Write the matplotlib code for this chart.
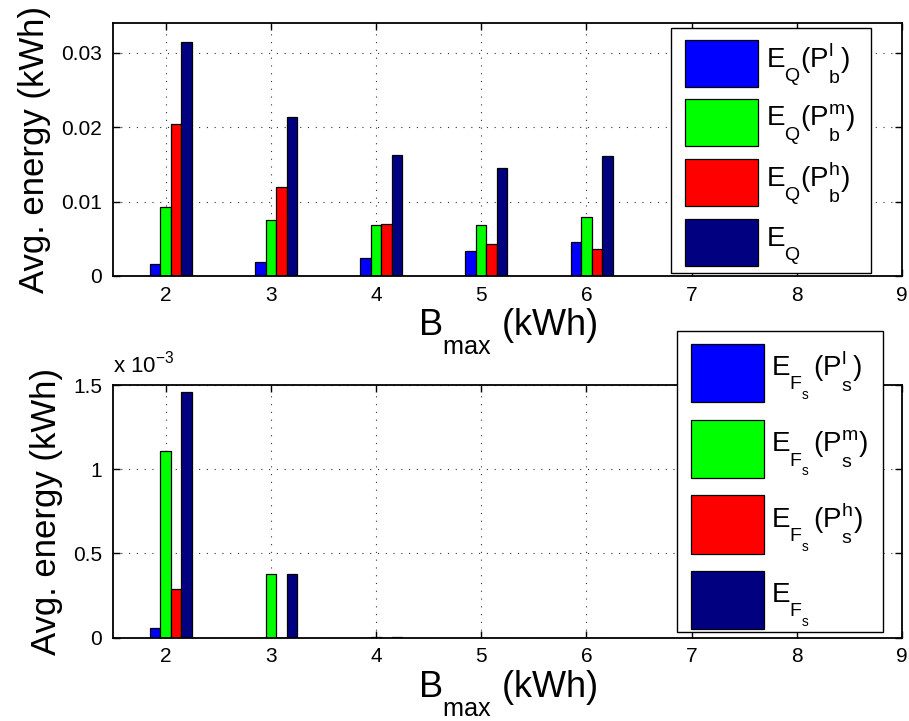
import numpy as np
import matplotlib
matplotlib.use("Agg")
import matplotlib.pyplot as plt
from matplotlib.ticker import FuncFormatter
from matplotlib.patches import Rectangle
from matplotlib.legend_handler import HandlerPatch
import matplotlib._mathtext as mt

plt.rcParams['font.family'] = ['Liberation Sans', 'DejaVu Sans']
plt.rcParams['mathtext.fontset'] = 'custom'
plt.rcParams['mathtext.rm'] = 'Liberation Sans'
plt.rcParams['mathtext.it'] = 'Liberation Sans:italic'

# MATLAB-like deeper subscripts
mt.FontConstantsBase.sub1 = 0.95
mt.FontConstantsBase.sub2 = 1.05
mt.FontConstantsBase.sup1 = 0.75

# ---- data ----
bmax = [2, 3, 4, 5, 6]

# top: E_Q per price level (kWh)
eq_low = [0.00157, 0.0019, 0.00247, 0.0034, 0.0046]
eq_mid = [0.0093, 0.0075, 0.0068, 0.0068, 0.0079]
eq_high = [0.0204, 0.0120, 0.0070, 0.0043, 0.0036]
eq_total = [0.0314, 0.0214, 0.0163, 0.0145, 0.0161]

# bottom: E_Fs per price level (kWh)
ef_low = [0.06e-3, 0.0, 0.0, 0.0, 0.0]
ef_mid = [1.11e-3, 0.378e-3, 0.005e-3, 0.0, 0.0]
ef_high = [0.287e-3, 0.0, 0.0, 0.0, 0.0]
ef_total = [1.456e-3, 0.378e-3, 0.004e-3, 0.0, 0.0]

top_labels = [r'$\mathregular{E_Q(P_b^l)}$', r'$\mathregular{E_Q(P_b^m)}$',
              r'$\mathregular{E_Q(P_b^h)}$', r'$\mathregular{E_Q}$']
bot_labels = [r'$\mathregular{E_{F_s}\,(P_s^l)}$', r'$\mathregular{E_{F_s}\,(P_s^m)}$',
              r'$\mathregular{E_{F_s}\,(P_s^h)}$', r'$\mathregular{E_{F_s}}$']

colors = ['#0000ff', '#00ff00', '#ff0000', '#000080']
offsets = [-0.1, 0.0, 0.1, 0.2]
width = 0.1

fig = plt.figure(figsize=(9.09, 7.21), dpi=100)
ax1 = fig.add_axes([0.1243, 0.6172, 0.868, 0.3509])
ax2 = fig.add_axes([0.1243, 0.1155, 0.868, 0.3505])

x = np.array(bmax)


def box_handler(x0, y0, w, h):
    # legend swatch placed relative to the text baseline (in fontsize units)
    def make(legend, orig_handle, xdescent, ydescent, width, height, fontsize):
        return Rectangle((-xdescent + x0 * fontsize, y0 * fontsize), w * fontsize, h * fontsize)
    return HandlerPatch(patch_func=make)


def draw(ax, series, labels, ylim, yticks, leg_box, sw, hl, hh, ls, bp, tp):
    handles = []
    for vals, c, off, lab in zip(series, colors, offsets, labels):
        bars = ax.bar(x + off, vals, width, color=c, edgecolor='black', linewidth=0.9)
        handles.append(bars.patches[0])
    ax.set_xlim(1.5, 9)
    ax.set_xticks(range(2, 10))
    ax.set_ylim(*ylim)
    ax.set_yticks(yticks)
    ax.set_axisbelow(True)
    ax.grid(True, linestyle=(0, (1, 6)), color='#333333', linewidth=0.8)
    ax.tick_params(direction='in', top=True, right=True, length=5, width=1,
                   labelsize=15)
    ax.tick_params(axis='x', pad=7)
    ax.tick_params(axis='y', pad=8)
    for s in ax.spines.values():
        s.set_linewidth(1.3)
    ax.set_ylabel('Avg. energy (kWh)', fontsize=25, labelpad=7)
    ax.set_xlabel(r'$\mathregular{B_{max}}$ (kWh)', fontsize=26, labelpad=1)
    leg = ax.legend(handles, labels, loc='upper left', bbox_to_anchor=leg_box,
                    mode='expand', fontsize=20,
                    handler_map={Rectangle: box_handler(*sw)},
                    handlelength=hl, handleheight=hh, labelspacing=ls,
                    handletextpad=tp, borderpad=bp, borderaxespad=0,
                    fancybox=False, framealpha=1, edgecolor='black')
    leg.get_frame().set_linewidth(1.0)


draw(ax1, [eq_low, eq_mid, eq_high, eq_total], top_labels, (0, 0.034),
     [0, 0.01, 0.02, 0.03], (0.7068, 0.0, 0.2535, 0.981),
     (0.27, -0.70, 2.63, 1.69), 2.9, 2.3, 0.24, 0.24, 0.29)
ax1.yaxis.set_major_formatter(FuncFormatter(lambda v, p: '0' if v == 0 else f'{v:g}'))

draw(ax2, [ef_low, ef_mid, ef_high, ef_total], bot_labels, (0, 1.5e-3),
     [0, 0.5e-3, 1e-3, 1.5e-3], (0.7144, 0.0, 0.2611, 1.2125),
     (0.42, -0.94, 2.63, 2.09), 3.05, 3.39, 0.27, 0.11, 0.25)
ax2.yaxis.set_major_formatter(FuncFormatter(lambda v, p: f'{v * 1e3:g}'))
ax2.text(0.0, 1.03, r'x $\mathregular{10^{-3}}$', transform=ax2.transAxes,
         fontsize=16, ha='left', va='bottom')

fig.savefig('out.png', dpi=100)
